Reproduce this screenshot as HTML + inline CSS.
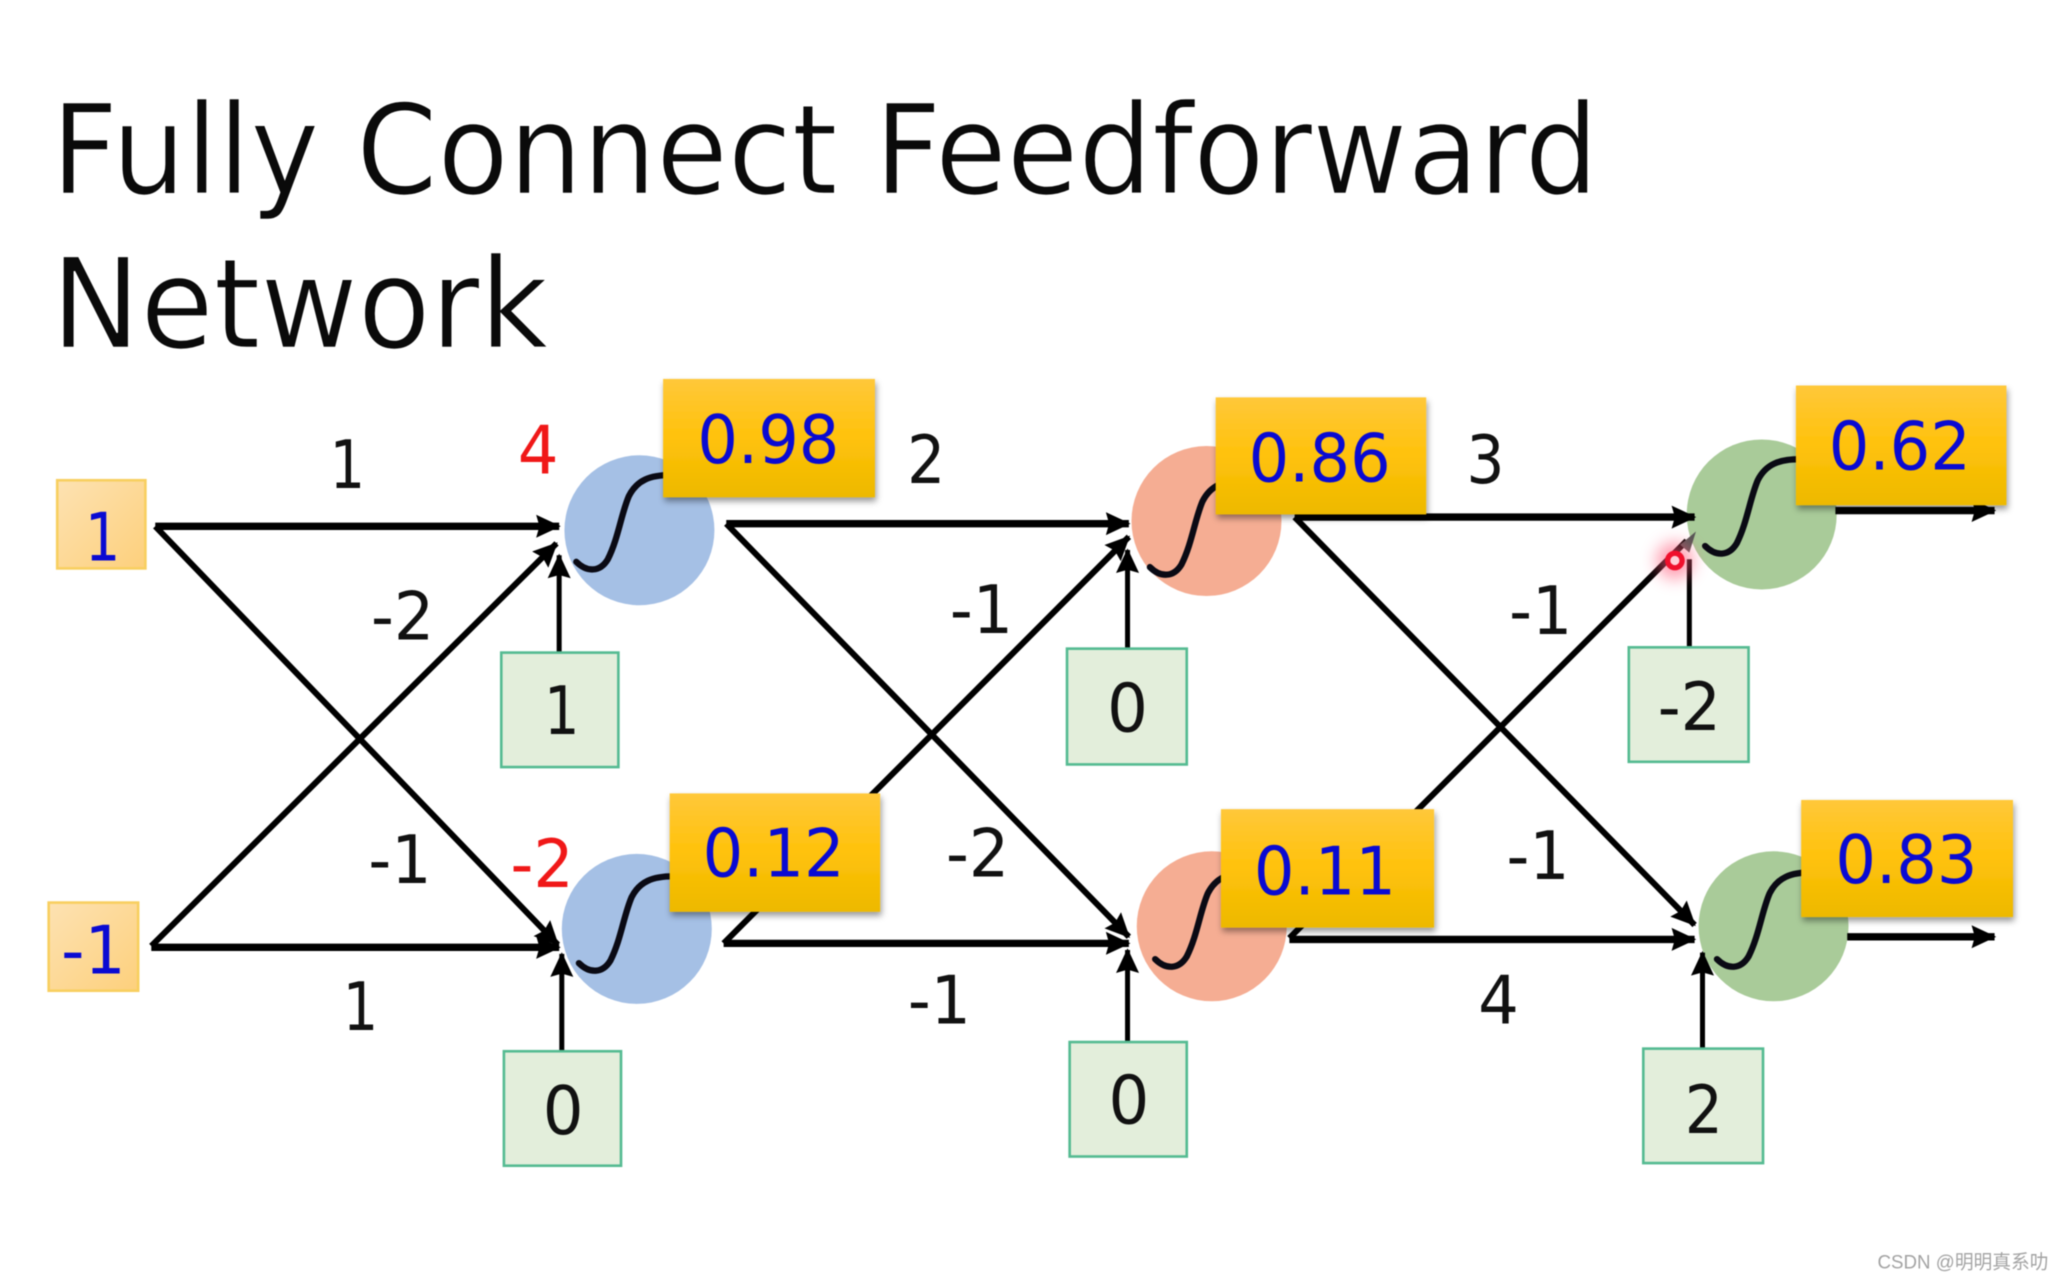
<!DOCTYPE html>
<html><head><meta charset="utf-8"><title>Fully Connect Feedforward Network</title>
<style>
html,body{margin:0;padding:0;background:#fff;width:2063px;height:1281px;overflow:hidden}
svg{display:block;filter:blur(.6px)}
text{font-family:"DejaVu Sans","Liberation Sans",sans-serif}
.d{font-size:51px;fill:#111;text-anchor:middle}
.y{font-size:51px;fill:#0a0ad2;text-anchor:middle}
.r{font-size:51px;fill:#f01818;text-anchor:middle}
.t{font-size:95px;fill:#0a0a0a;stroke:#fff;stroke-width:1.2px}
.ln{stroke:#000;stroke-width:4.6;fill:none}
.th{stroke:#000;stroke-width:5.6;fill:none}
.vt{stroke:#000;stroke-width:3.8;fill:none}
.s{stroke:#0a0a14;stroke-width:4.8;fill:none;stroke-linecap:round}
.g{fill:#e3eedb;stroke:#55bb92;stroke-width:2}
.i{fill:url(#inp);stroke:#f8cf60;stroke-width:2}
.yb{fill:url(#yel);filter:url(#sh)}
</style></head><body>
<svg xmlns="http://www.w3.org/2000/svg" width="2063" height="1281" viewBox="0 0 1568 973.6">
<defs>
<linearGradient id="yel" x1="0" y1="0" x2="0" y2="1"><stop offset="0" stop-color="#ffc83a"/><stop offset=".5" stop-color="#ffc20a"/><stop offset="1" stop-color="#edb900"/></linearGradient>
<linearGradient id="inp" x1="0" y1="0" x2="1" y2="1"><stop offset="0" stop-color="#fde2b2"/><stop offset="1" stop-color="#fdd07c"/></linearGradient>
<filter id="sh" x="-10%" y="-10%" width="120%" height="125%"><feDropShadow dx="1" dy="3" stdDeviation="2.5" flood-color="#000" flood-opacity=".4"/></filter>
<filter id="gl" x="-150%" y="-150%" width="400%" height="400%"><feGaussianBlur stdDeviation="6"/></filter>
<marker id="a" markerUnits="userSpaceOnUse" markerWidth="20" markerHeight="20" refX="14" refY="8" orient="auto" viewBox="0 0 16 16"><path d="M0 1 L15 8 L0 15 L2 8Z" fill="#000"/></marker>
<path id="sg" d="M-48 24C-40 32-30 32-24 22C-16 6-14-12-8-26C-2-38 8-42 24-42"/>
</defs>
<rect width="1568" height="974" fill="#fff"/>

<text class="t" x="39" y="147" textLength="1176" lengthAdjust="spacingAndGlyphs">Fully Connect Feedforward</text>
<text class="t" x="39" y="264" textLength="378" lengthAdjust="spacingAndGlyphs">Network</text>

<!-- circles -->
<circle cx="486" cy="403" r="57" fill="#a5c0e5"/>
<circle cx="484" cy="706" r="57" fill="#a5c0e5"/>
<circle cx="917" cy="396" r="57" fill="#f5ad93"/>
<circle cx="921" cy="704" r="57" fill="#f5ad93"/>
<circle cx="1339" cy="391" r="57" fill="#a9cb99"/>
<circle cx="1348" cy="704" r="57" fill="#a9cb99"/>

<!-- sigmoids -->
<use href="#sg" class="s" x="486" y="403"/>
<use href="#sg" class="s" x="488" y="708"/>
<use href="#sg" class="s" x="922" y="407"/>
<use href="#sg" class="s" x="926" y="705"/>
<use href="#sg" class="s" x="1344" y="391"/>
<use href="#sg" class="s" x="1353" y="705"/>

<!-- layer 1 connectors -->
<line class="th" x1="118" y1="400" x2="425" y2="400" marker-end="url(#a)"/>
<line class="ln" x1="118" y1="400" x2="424" y2="718" marker-end="url(#a)"/>
<line class="ln" x1="115" y1="719" x2="423" y2="413" marker-end="url(#a)"/>
<line class="th" x1="115" y1="720" x2="425" y2="720" marker-end="url(#a)"/>
<line class="vt" x1="425" y1="496" x2="425" y2="422" marker-end="url(#a)"/>
<line class="vt" x1="427" y1="799" x2="427" y2="725" marker-end="url(#a)"/>

<!-- layer 2 connectors -->
<line class="th" x1="552" y1="398" x2="858" y2="398" marker-end="url(#a)"/>
<line class="ln" x1="552" y1="398" x2="858" y2="712" marker-end="url(#a)"/>
<line class="ln" x1="550" y1="717" x2="858" y2="408" marker-end="url(#a)"/>
<line class="th" x1="550" y1="717" x2="858" y2="717" marker-end="url(#a)"/>
<line class="vt" x1="857" y1="493" x2="857" y2="418" marker-end="url(#a)"/>
<line class="vt" x1="857" y1="792" x2="857" y2="722" marker-end="url(#a)"/>

<!-- layer 3 connectors -->
<line class="th" x1="984" y1="393" x2="1288" y2="393" marker-end="url(#a)"/>
<line class="ln" x1="984" y1="393" x2="1288" y2="703" marker-end="url(#a)"/>
<line class="ln" x1="980" y1="713" x2="1282" y2="411"/>
<line class="th" x1="980" y1="714" x2="1288" y2="714" marker-end="url(#a)"/>
<line class="vt" x1="1284" y1="492" x2="1284" y2="425"/>
<line class="vt" x1="1294" y1="797" x2="1294" y2="724" marker-end="url(#a)"/>

<!-- outputs -->
<line class="th" x1="1395" y1="388" x2="1516" y2="388" marker-end="url(#a)"/>
<line class="th" x1="1404" y1="712" x2="1516" y2="712" marker-end="url(#a)"/>

<!-- input boxes -->
<rect class="i" x="43.5" y="365" width="67" height="67"/>
<rect class="i" x="37" y="686" width="68" height="67"/>
<text class="y" x="78" y="426" textLength="27" lengthAdjust="spacingAndGlyphs">1</text>
<text class="y" x="71" y="740" textLength="49" lengthAdjust="spacingAndGlyphs">-1</text>

<!-- bias boxes -->
<rect class="g" x="381" y="496" width="89" height="87"/>
<rect class="g" x="383" y="799" width="89" height="87"/>
<rect class="g" x="811" y="493" width="91" height="88"/>
<rect class="g" x="813" y="792" width="89" height="87"/>
<rect class="g" x="1238" y="492" width="91" height="87"/>
<rect class="g" x="1249" y="797" width="91" height="87"/>
<text class="d" x="427" y="558" textLength="27" lengthAdjust="spacingAndGlyphs">1</text>
<text class="d" x="428" y="862" textLength="31" lengthAdjust="spacingAndGlyphs">0</text>
<text class="d" x="857" y="556" textLength="31" lengthAdjust="spacingAndGlyphs">0</text>
<text class="d" x="858" y="854" textLength="31" lengthAdjust="spacingAndGlyphs">0</text>
<text class="d" x="1284" y="555" textLength="48" lengthAdjust="spacingAndGlyphs">-2</text>
<text class="d" x="1295" y="861" textLength="29" lengthAdjust="spacingAndGlyphs">2</text>

<!-- yellow output boxes -->
<rect class="yb" x="504" y="288" width="161" height="90"/>
<rect class="yb" x="509" y="603" width="160" height="90"/>
<rect class="yb" x="924" y="302" width="160" height="89"/>
<rect class="yb" x="928" y="615" width="162" height="90"/>
<rect class="yb" x="1365" y="293" width="160" height="91"/>
<rect class="yb" x="1369" y="608" width="161" height="89"/>
<text class="y" x="584" y="352" textLength="108" lengthAdjust="spacingAndGlyphs">0.98</text>
<text class="y" x="588" y="666" textLength="108" lengthAdjust="spacingAndGlyphs">0.12</text>
<text class="y" x="1003" y="366" textLength="108" lengthAdjust="spacingAndGlyphs">0.86</text>
<text class="y" x="1007" y="680" textLength="108" lengthAdjust="spacingAndGlyphs">0.11</text>
<text class="y" x="1444" y="357" textLength="108" lengthAdjust="spacingAndGlyphs">0.62</text>
<text class="y" x="1449" y="671" textLength="108" lengthAdjust="spacingAndGlyphs">0.83</text>

<!-- edge labels -->
<text class="d" x="264" y="371" textLength="27" lengthAdjust="spacingAndGlyphs">1</text>
<text class="r" x="409" y="360" textLength="31" lengthAdjust="spacingAndGlyphs">4</text>
<text class="d" x="306" y="486" textLength="48" lengthAdjust="spacingAndGlyphs">-2</text>
<text class="d" x="304" y="671" textLength="48" lengthAdjust="spacingAndGlyphs">-1</text>
<text class="r" x="412" y="674" textLength="48" lengthAdjust="spacingAndGlyphs">-2</text>
<text class="d" x="274" y="783" textLength="27" lengthAdjust="spacingAndGlyphs">1</text>
<text class="d" x="704" y="367" textLength="29" lengthAdjust="spacingAndGlyphs">2</text>
<text class="d" x="746" y="481" textLength="48" lengthAdjust="spacingAndGlyphs">-1</text>
<text class="d" x="743" y="666" textLength="48" lengthAdjust="spacingAndGlyphs">-2</text>
<text class="d" x="714" y="778" textLength="48" lengthAdjust="spacingAndGlyphs">-1</text>
<text class="d" x="1129" y="367" textLength="29" lengthAdjust="spacingAndGlyphs">3</text>
<text class="d" x="1171" y="482" textLength="48" lengthAdjust="spacingAndGlyphs">-1</text>
<text class="d" x="1169" y="668" textLength="48" lengthAdjust="spacingAndGlyphs">-1</text>
<text class="d" x="1139" y="778" textLength="31" lengthAdjust="spacingAndGlyphs">4</text>

<!-- laser pointer -->
<path d="M1277 414 L1289 404 L1284 420Z" fill="#555"/>
<circle cx="1273" cy="426" r="14" fill="#ff5a7a" opacity=".6" filter="url(#gl)"/>
<circle cx="1273" cy="426" r="5.5" fill="#ffd0d8" stroke="#f0102c" stroke-width="4"/>

<!-- watermark -->
<text x="1427" y="964" style="font-family:'Liberation Sans','Noto Sans CJK SC',sans-serif;font-size:14.5px;fill:#a3a3a3" textLength="130" lengthAdjust="spacingAndGlyphs">CSDN @明明真系叻</text>
</svg>
</body></html>
